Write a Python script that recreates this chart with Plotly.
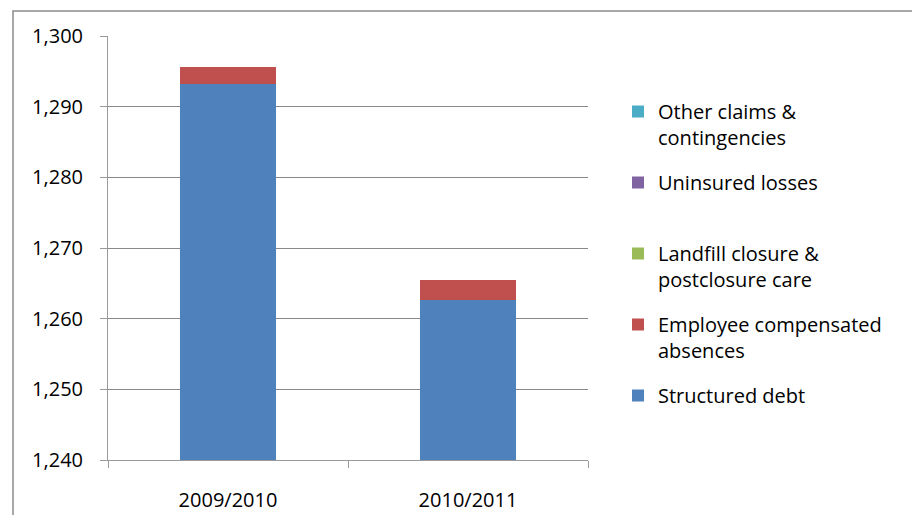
import plotly.graph_objects as go

years = ["2009/2010", "2010/2011"]
structured_debt = [1293.2, 1262.7]
employee_absences = [2.4, 2.8]
landfill = [0, 0]
uninsured = [0, 0]
other_claims = [0, 0]

series = [
    ("Structured debt", structured_debt, "#4F81BD"),
    ("Employee compensated<br>absences", employee_absences, "#C0504D"),
    ("Landfill closure &<br>postclosure care", landfill, "#9BBB59"),
    ("Uninsured losses<br> ", uninsured, "#8064A2"),
    ("Other claims &<br>contingencies", other_claims, "#4BACC6"),
]

# page body has an 8px margin; figure coordinates = screen - 8
W, H = 912, 507
L, R, T, B = 100, 332, 28, 55

fig = go.Figure()
n = len(series)
for i, (name, vals, col) in enumerate(series):
    fig.add_trace(go.Bar(x=years, y=vals, name=name, marker_color=col,
                         marker_line_width=0, width=0.4, legendgroup=f"g{i}",
                         legendrank=n - i))

pw, ph = W - L - R, H - T - B
fig.add_shape(type="rect", xref="paper", yref="paper",
              x0=(5 - L) / pw, x1=(908 - L) / pw,
              y0=(H - B - 530) / ph, y1=(H - B - 3) / ph,
              line=dict(color="#8c8c8c", width=1.5), fillcolor="rgba(0,0,0,0)", layer="below")

font = "Open Sans, DejaVu Sans, sans-serif"
fig.update_layout(
    width=W, height=H, barmode="stack",
    margin=dict(l=L, r=R, t=T, b=B, autoexpand=False),
    plot_bgcolor="white", paper_bgcolor="white",
    font=dict(family=font, size=20, color="#000000"),
    bargap=0.6,
    legend=dict(x=(610 - L) / pw, y=(H - B - 84) / ph, xanchor="left", yanchor="top",
                traceorder="grouped", tracegroupgap=16, valign="top",
                font=dict(size=20, family=font), bgcolor="rgba(0,0,0,0)"),
    xaxis=dict(showline=True, linecolor="#9a9a9a", linewidth=1, ticks="outside",
               tickson="boundaries", ticklen=7, tickcolor="#9a9a9a",
               showgrid=False, ticklabelstandoff=22),
    yaxis=dict(range=[1240, 1300], dtick=10, tickformat=",", showline=True,
               linecolor="#9a9a9a", linewidth=1, ticks="outside", ticklen=7,
               tickcolor="#9a9a9a", showgrid=True, gridcolor="#8a8a8a", gridwidth=1,
               zeroline=False, ticklabelstandoff=13),
)

fig.write_html("out.html")
